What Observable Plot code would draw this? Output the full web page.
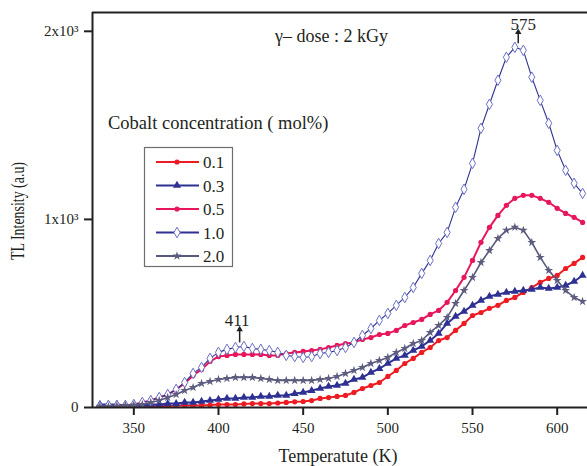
<!DOCTYPE html>
<html>
<head>
<meta charset="utf-8">
<script src="https://cdn.jsdelivr.net/npm/d3@7"></script>
<script src="https://cdn.jsdelivr.net/npm/@observablehq/plot@0.6"></script>
<style>
  html, body { margin: 0; padding: 0; background: #fff; }
  #chart { width: 587px; height: 466px; }
  #chart svg, #chart svg text { font-family: "Liberation Serif", "Times New Roman", serif !important; }
</style>
</head>
<body>
<div id="chart"></div>
<script>
// ---- data ----
const temperature = [330,335,340,345,350,355,360,365,370,375,380,385,390,395,400,405,410,415,420,425,430,435,440,445,450,455,460,465,470,475,480,485,490,495,500,505,510,515,520,525,530,535,540,545,550,555,560,565,570,575,580,585,590,595,600,605,610,615];

const conc01 = [0,0,0,0,0,0,5,8,8,11,11,11,11,13,16,16,16,19,21,21,21,24,27,30,32,37,48,53,59,64,80,101,117,133,165,197,234,261,293,319,356,372,410,447,489,505,527,543,569,585,612,638,665,686,702,739,766,798];
const conc03 = [16,16,16,11,11,11,16,16,21,21,27,27,32,37,43,48,48,53,53,59,59,64,64,74,80,90,101,112,117,128,149,160,186,207,234,261,277,303,325,356,394,447,484,511,543,569,591,601,612,617,622,628,638,633,638,649,670,702];
const conc05 = [5,8,11,11,16,27,37,53,69,96,128,170,202,245,271,277,282,282,282,282,277,277,287,293,298,303,309,319,330,340,346,362,372,388,394,410,436,452,468,495,516,559,622,692,782,878,958,1021,1075,1112,1128,1128,1112,1091,1059,1032,1011,984];
const conc10 = [5,11,11,11,16,27,37,53,69,96,133,181,213,261,293,309,319,325,314,309,303,293,277,271,266,271,287,293,303,319,346,383,420,463,500,543,585,638,713,782,872,931,1064,1160,1298,1484,1612,1740,1862,1915,1899,1756,1633,1511,1367,1261,1192,1138];
const conc20 = [5,5,8,11,13,16,27,37,53,69,90,106,128,138,149,154,160,160,160,154,149,144,144,144,144,144,149,154,165,181,197,213,234,250,266,293,314,340,356,399,436,479,553,622,692,771,835,899,942,958,942,878,798,729,676,622,585,564];

const seriesNames = ["0.1", "0.3", "0.5", "1.0", "2.0"];
const seriesValues = [conc01, conc03, conc05, conc10, conc20];

const xTicks = [350, 400, 450, 500, 550, 600];
const yTicks = [0, 1000, 2000];
const yTickLabels = ["0", "1x10\u00b3", "2x10\u00b3"];
const xDomain = [325.6, 617.9];
const yDomain = [0, 2100];

// peak annotations
const peakLabels = ["411", "575"];
const peakLabelT = [411, 580];
const peakLabelI = [431, 2006];
const arrowT = [412.5, 577];
const arrowHeadI = [415, 1995];
const arrowBaseI = [346, 1936];

// ---- styles ----
const lineColors = ["#ed1c24", "#2e3192", "#e8175d", "#2e3192", "#58587c"];
const lineWidths = [2, 2, 2, 1.1, 1.6];
const symbols = ["circle", "triangle", "circle", "diamond", "star"];
const d3Symbols = [d3.symbolCircle, d3.symbolTriangle, d3.symbolCircle, d3.symbolDiamond, d3.symbolStar];
const radii = [2.6, 3.0, 2.6, 3.2, 2.8];
const fills = ["#ed1c24", "#2e3192", "#e8175d", "#ffffff", "#5d5d80"];
const strokes = ["none", "none", "none", "#6a6fc2", "none"];

const rows = seriesValues.map(vals => temperature.map((t, i) => ({T: t, I: vals[i]})));

const seriesMarks = rows.flatMap((data, k) => [
  Plot.line(data, {x: "T", y: "I", stroke: lineColors[k], strokeWidth: lineWidths[k], clip: true}),
  Plot.dot(data, {x: "T", y: "I", symbol: symbols[k], r: radii[k], fill: fills[k], stroke: strokes[k], strokeWidth: 1, clip: true})
]);

const annots = peakLabels.map((s, i) => ({label: s, lt: peakLabelT[i], li: peakLabelI[i], at: arrowT[i], ah: arrowHeadI[i], ab: arrowBaseI[i]}));

const ink = "#231f20";
const svg = Plot.plot({
  width: 587,
  height: 466,
  marginLeft: 92,
  marginTop: 12,
  marginRight: 0,
  marginBottom: 59,
  style: "font-family: 'Liberation Serif', 'Times New Roman', serif; color: #231f20; background: #fff; overflow: visible;",
  x: {domain: xDomain},
  y: {domain: yDomain},
  marks: [
    ...seriesMarks,
    Plot.link(annots, {x1: "at", x2: "at", y1: "ab", y2: "ah", stroke: ink, strokeWidth: 1.5}),
    Plot.dot(annots, {x: "at", y: "ah", symbol: "triangle", r: 2.4, fill: ink}),
    Plot.text(annots, {x: "lt", y: "li", text: "label", fontSize: 17, lineAnchor: "bottom", fill: ink}),
    Plot.ruleX([xDomain[0]], {stroke: ink, strokeWidth: 2}),
    Plot.ruleY([yDomain[0]], {stroke: ink, strokeWidth: 2}),
    Plot.ruleY([yDomain[1]], {stroke: ink, strokeWidth: 2}),
    Plot.axisX({ticks: xTicks, tickSize: 8, tickPadding: 7, fontSize: 15, strokeWidth: 2, label: null}),
    Plot.axisY({ticks: yTicks, tickFormat: d => yTickLabels[yTicks.indexOf(d)], tickSize: 8, tickPadding: 6, fontSize: 15, strokeWidth: 2, label: null})
  ]
});

const S = d3.select(svg);
// annotation texts
S.append("text").attr("x", 275).attr("y", 42).attr("text-anchor", "start").attr("font-size", 18).attr("fill", ink).text("\u03b3\u2013 dose : 2 kGy");
S.append("text").attr("x", 108).attr("y", 129).attr("text-anchor", "start").attr("font-size", 18.5).attr("fill", ink).text("Cobalt concentration ( mol%)");
// axis titles
S.append("text").attr("x", 338).attr("y", 462).attr("text-anchor", "middle").attr("font-size", 18).attr("fill", ink).text("Temperatute (K)");
S.append("text").attr("transform", "translate(24,211) rotate(-90)").attr("text-anchor", "middle")
  .attr("font-size", 18).attr("fill", ink).attr("textLength", 98).attr("lengthAdjust", "spacingAndGlyphs").text("TL Intensity (a.u)");

// legend
const lg = S.append("g");
lg.append("rect").attr("x", 144.5).attr("y", 147.5).attr("width", 88).attr("height", 119)
  .attr("fill", "#fff").attr("stroke", "#6d6e71").attr("stroke-width", 1.2);
seriesNames.forEach((name, k) => {
  const cy = 162 + k * 23.5;
  lg.append("line").attr("x1", 156).attr("x2", 199).attr("y1", cy).attr("y2", cy)
    .attr("stroke", lineColors[k]).attr("stroke-width", 2);
  lg.append("path").attr("transform", `translate(177,${cy})`)
    .attr("d", d3.symbol(d3Symbols[k], Math.PI * radii[k] * radii[k])())
    .attr("fill", fills[k]).attr("stroke", strokes[k]).attr("stroke-width", 1);
  lg.append("text").attr("x", 203).attr("y", cy + 6).attr("text-anchor", "start").attr("font-size", 17).attr("fill", ink).text(name);
});

document.getElementById("chart").appendChild(svg);
</script>
</body>
</html>
